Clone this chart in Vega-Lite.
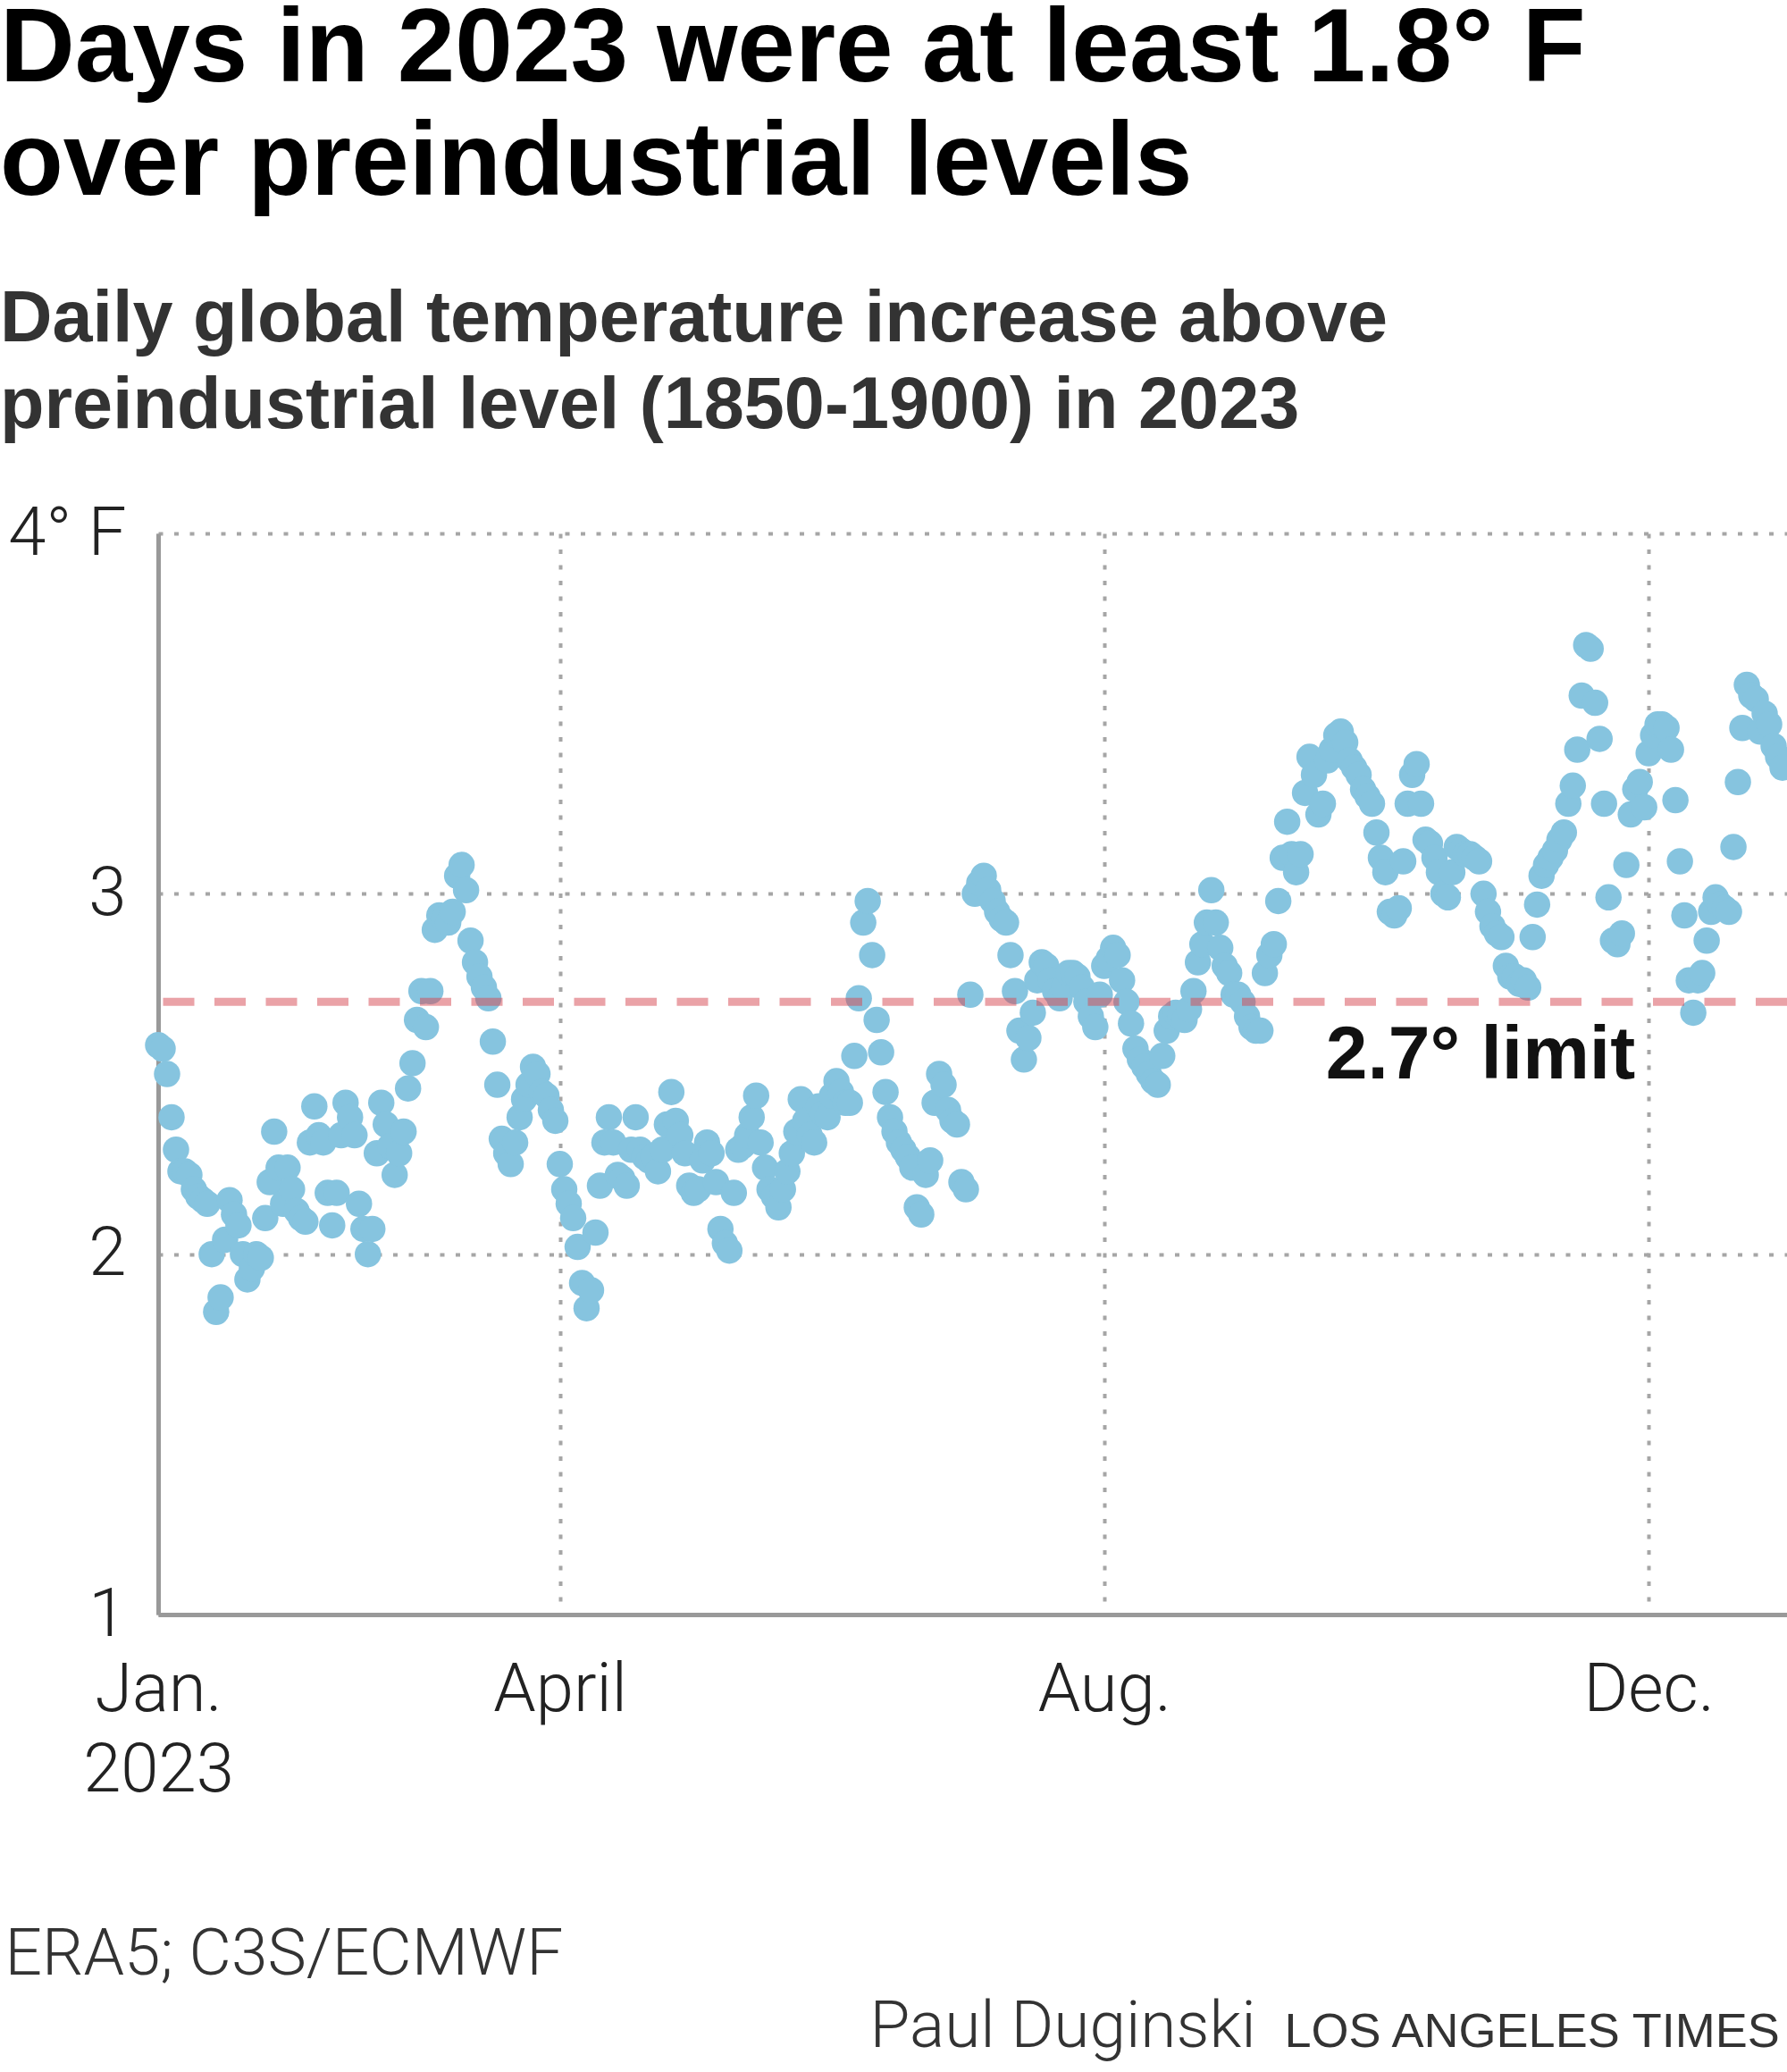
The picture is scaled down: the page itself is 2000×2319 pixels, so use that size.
{
  "$schema": "https://vega.github.io/schema/vega-lite/v6.json",
  "width": 1823,
  "height": 1210,
  "autosize": {"type": "none"},
  "padding": {"left": 177, "top": 597, "right": 0, "bottom": 512},
  "background": "white",
  "title": {
    "text": ["Days in 2023 were at least 1.8° F", "over preindustrial levels"],
    "subtitle": ["Daily global temperature increase above", "preindustrial level (1850-1900) in 2023"],
    "anchor": "start",
    "frame": "group",
    "dx": -177,
    "offset": 63,
    "font": "Liberation Sans",
    "fontSize": 116,
    "fontWeight": "bold",
    "lineHeight": 127,
    "color": "#000000",
    "subtitleFont": "Liberation Sans",
    "subtitleFontSize": 81,
    "subtitleFontWeight": "bold",
    "subtitleLineHeight": 97,
    "subtitleColor": "#333333",
    "subtitlePadding": 76
  },
  "datasets": {
    "temps": [
      {"date":"2023-01-01","temp":2.58},{"date":"2023-01-02","temp":2.57},{"date":"2023-01-03","temp":2.50},{"date":"2023-01-04","temp":2.38},{"date":"2023-01-05","temp":2.29},{"date":"2023-01-06","temp":2.23},{"date":"2023-01-07","temp":2.23},{"date":"2023-01-08","temp":2.22},{"date":"2023-01-09","temp":2.18},{"date":"2023-01-10","temp":2.16},{"date":"2023-01-11","temp":2.15},{"date":"2023-01-12","temp":2.14},{"date":"2023-01-13","temp":2.00},{"date":"2023-01-14","temp":1.84},{"date":"2023-01-15","temp":1.88},{"date":"2023-01-16","temp":2.04},{"date":"2023-01-17","temp":2.15},{"date":"2023-01-18","temp":2.11},{"date":"2023-01-19","temp":2.08},{"date":"2023-01-20","temp":2.00},{"date":"2023-01-21","temp":1.93},{"date":"2023-01-22","temp":1.96},{"date":"2023-01-23","temp":2.00},{"date":"2023-01-24","temp":1.99},{"date":"2023-01-25","temp":2.10},{"date":"2023-01-26","temp":2.20},{"date":"2023-01-27","temp":2.34},{"date":"2023-01-28","temp":2.24},{"date":"2023-01-29","temp":2.14},{"date":"2023-01-30","temp":2.24},{"date":"2023-01-31","temp":2.18},
      {"date":"2023-02-01","temp":2.12},{"date":"2023-02-02","temp":2.10},{"date":"2023-02-03","temp":2.09},{"date":"2023-02-04","temp":2.31},{"date":"2023-02-05","temp":2.41},{"date":"2023-02-06","temp":2.33},{"date":"2023-02-07","temp":2.31},{"date":"2023-02-08","temp":2.17},{"date":"2023-02-09","temp":2.08},{"date":"2023-02-10","temp":2.17},{"date":"2023-02-11","temp":2.33},{"date":"2023-02-12","temp":2.42},{"date":"2023-02-13","temp":2.38},{"date":"2023-02-14","temp":2.33},{"date":"2023-02-15","temp":2.14},{"date":"2023-02-16","temp":2.07},{"date":"2023-02-17","temp":2.00},{"date":"2023-02-18","temp":2.07},{"date":"2023-02-19","temp":2.28},{"date":"2023-02-20","temp":2.42},{"date":"2023-02-21","temp":2.36},{"date":"2023-02-22","temp":2.30},{"date":"2023-02-23","temp":2.22},{"date":"2023-02-24","temp":2.28},{"date":"2023-02-25","temp":2.34},{"date":"2023-02-26","temp":2.46},{"date":"2023-02-27","temp":2.53},{"date":"2023-02-28","temp":2.65},
      {"date":"2023-03-01","temp":2.73},{"date":"2023-03-02","temp":2.63},{"date":"2023-03-03","temp":2.73},{"date":"2023-03-04","temp":2.90},{"date":"2023-03-05","temp":2.94},{"date":"2023-03-06","temp":2.93},{"date":"2023-03-07","temp":2.92},{"date":"2023-03-08","temp":2.95},{"date":"2023-03-09","temp":3.05},{"date":"2023-03-10","temp":3.08},{"date":"2023-03-11","temp":3.01},{"date":"2023-03-12","temp":2.87},{"date":"2023-03-13","temp":2.81},{"date":"2023-03-14","temp":2.77},{"date":"2023-03-15","temp":2.74},{"date":"2023-03-16","temp":2.71},{"date":"2023-03-17","temp":2.59},{"date":"2023-03-18","temp":2.47},{"date":"2023-03-19","temp":2.32},{"date":"2023-03-20","temp":2.28},{"date":"2023-03-21","temp":2.25},{"date":"2023-03-22","temp":2.31},{"date":"2023-03-23","temp":2.38},{"date":"2023-03-24","temp":2.43},{"date":"2023-03-25","temp":2.47},{"date":"2023-03-26","temp":2.52},{"date":"2023-03-27","temp":2.50},{"date":"2023-03-28","temp":2.45},{"date":"2023-03-29","temp":2.44},{"date":"2023-03-30","temp":2.40},{"date":"2023-03-31","temp":2.37},
      {"date":"2023-04-01","temp":2.25},{"date":"2023-04-02","temp":2.18},{"date":"2023-04-03","temp":2.14},{"date":"2023-04-04","temp":2.10},{"date":"2023-04-05","temp":2.02},{"date":"2023-04-06","temp":1.92},{"date":"2023-04-07","temp":1.85},{"date":"2023-04-08","temp":1.90},{"date":"2023-04-09","temp":2.06},{"date":"2023-04-10","temp":2.19},{"date":"2023-04-11","temp":2.31},{"date":"2023-04-12","temp":2.38},{"date":"2023-04-13","temp":2.31},{"date":"2023-04-14","temp":2.22},{"date":"2023-04-15","temp":2.21},{"date":"2023-04-16","temp":2.19},{"date":"2023-04-17","temp":2.29},{"date":"2023-04-18","temp":2.38},{"date":"2023-04-19","temp":2.29},{"date":"2023-04-20","temp":2.27},{"date":"2023-04-21","temp":2.26},{"date":"2023-04-22","temp":2.27},{"date":"2023-04-23","temp":2.23},{"date":"2023-04-24","temp":2.29},{"date":"2023-04-25","temp":2.36},{"date":"2023-04-26","temp":2.45},{"date":"2023-04-27","temp":2.37},{"date":"2023-04-28","temp":2.33},{"date":"2023-04-29","temp":2.28},{"date":"2023-04-30","temp":2.19},
      {"date":"2023-05-01","temp":2.17},{"date":"2023-05-02","temp":2.18},{"date":"2023-05-03","temp":2.26},{"date":"2023-05-04","temp":2.31},{"date":"2023-05-05","temp":2.28},{"date":"2023-05-06","temp":2.20},{"date":"2023-05-07","temp":2.07},{"date":"2023-05-08","temp":2.03},{"date":"2023-05-09","temp":2.01},{"date":"2023-05-10","temp":2.17},{"date":"2023-05-11","temp":2.29},{"date":"2023-05-12","temp":2.30},{"date":"2023-05-13","temp":2.33},{"date":"2023-05-14","temp":2.38},{"date":"2023-05-15","temp":2.44},{"date":"2023-05-16","temp":2.31},{"date":"2023-05-17","temp":2.24},{"date":"2023-05-18","temp":2.18},{"date":"2023-05-19","temp":2.16},{"date":"2023-05-20","temp":2.13},{"date":"2023-05-21","temp":2.18},{"date":"2023-05-22","temp":2.23},{"date":"2023-05-23","temp":2.28},{"date":"2023-05-24","temp":2.34},{"date":"2023-05-25","temp":2.43},{"date":"2023-05-26","temp":2.37},{"date":"2023-05-27","temp":2.33},{"date":"2023-05-28","temp":2.31},{"date":"2023-05-29","temp":2.41},{"date":"2023-05-30","temp":2.39},{"date":"2023-05-31","temp":2.38},
      {"date":"2023-06-01","temp":2.44},{"date":"2023-06-02","temp":2.48},{"date":"2023-06-03","temp":2.45},{"date":"2023-06-04","temp":2.42},{"date":"2023-06-05","temp":2.42},{"date":"2023-06-06","temp":2.55},{"date":"2023-06-07","temp":2.71},{"date":"2023-06-08","temp":2.92},{"date":"2023-06-09","temp":2.98},{"date":"2023-06-10","temp":2.83},{"date":"2023-06-11","temp":2.65},{"date":"2023-06-12","temp":2.56},{"date":"2023-06-13","temp":2.45},{"date":"2023-06-14","temp":2.38},{"date":"2023-06-15","temp":2.34},{"date":"2023-06-16","temp":2.31},{"date":"2023-06-17","temp":2.29},{"date":"2023-06-18","temp":2.27},{"date":"2023-06-19","temp":2.24},{"date":"2023-06-20","temp":2.13},{"date":"2023-06-21","temp":2.11},{"date":"2023-06-22","temp":2.22},{"date":"2023-06-23","temp":2.26},{"date":"2023-06-24","temp":2.42},{"date":"2023-06-25","temp":2.50},{"date":"2023-06-26","temp":2.47},{"date":"2023-06-27","temp":2.40},{"date":"2023-06-28","temp":2.37},{"date":"2023-06-29","temp":2.36},{"date":"2023-06-30","temp":2.20},
      {"date":"2023-07-01","temp":2.18},{"date":"2023-07-02","temp":2.72},{"date":"2023-07-03","temp":3.00},{"date":"2023-07-04","temp":3.03},{"date":"2023-07-05","temp":3.05},{"date":"2023-07-06","temp":3.01},{"date":"2023-07-07","temp":2.98},{"date":"2023-07-08","temp":2.95},{"date":"2023-07-09","temp":2.93},{"date":"2023-07-10","temp":2.92},{"date":"2023-07-11","temp":2.83},{"date":"2023-07-12","temp":2.73},{"date":"2023-07-13","temp":2.62},{"date":"2023-07-14","temp":2.54},{"date":"2023-07-15","temp":2.60},{"date":"2023-07-16","temp":2.67},{"date":"2023-07-17","temp":2.76},{"date":"2023-07-18","temp":2.81},{"date":"2023-07-19","temp":2.80},{"date":"2023-07-20","temp":2.76},{"date":"2023-07-21","temp":2.73},{"date":"2023-07-22","temp":2.71},{"date":"2023-07-23","temp":2.74},{"date":"2023-07-24","temp":2.78},{"date":"2023-07-25","temp":2.78},{"date":"2023-07-26","temp":2.77},{"date":"2023-07-27","temp":2.74},{"date":"2023-07-28","temp":2.70},{"date":"2023-07-29","temp":2.66},{"date":"2023-07-30","temp":2.63},{"date":"2023-07-31","temp":2.72},
      {"date":"2023-08-01","temp":2.80},{"date":"2023-08-02","temp":2.82},{"date":"2023-08-03","temp":2.85},{"date":"2023-08-04","temp":2.83},{"date":"2023-08-05","temp":2.76},{"date":"2023-08-06","temp":2.70},{"date":"2023-08-07","temp":2.64},{"date":"2023-08-08","temp":2.57},{"date":"2023-08-09","temp":2.54},{"date":"2023-08-10","temp":2.52},{"date":"2023-08-11","temp":2.50},{"date":"2023-08-12","temp":2.48},{"date":"2023-08-13","temp":2.47},{"date":"2023-08-14","temp":2.55},{"date":"2023-08-15","temp":2.62},{"date":"2023-08-16","temp":2.66},{"date":"2023-08-17","temp":2.67},{"date":"2023-08-18","temp":2.66},{"date":"2023-08-19","temp":2.65},{"date":"2023-08-20","temp":2.68},{"date":"2023-08-21","temp":2.73},{"date":"2023-08-22","temp":2.81},{"date":"2023-08-23","temp":2.86},{"date":"2023-08-24","temp":2.92},{"date":"2023-08-25","temp":3.01},{"date":"2023-08-26","temp":2.92},{"date":"2023-08-27","temp":2.85},{"date":"2023-08-28","temp":2.80},{"date":"2023-08-29","temp":2.78},{"date":"2023-08-30","temp":2.72},{"date":"2023-08-31","temp":2.72},
      {"date":"2023-09-01","temp":2.70},{"date":"2023-09-02","temp":2.66},{"date":"2023-09-03","temp":2.63},{"date":"2023-09-04","temp":2.62},{"date":"2023-09-05","temp":2.62},{"date":"2023-09-06","temp":2.78},{"date":"2023-09-07","temp":2.83},{"date":"2023-09-08","temp":2.86},{"date":"2023-09-09","temp":2.98},{"date":"2023-09-10","temp":3.10},{"date":"2023-09-11","temp":3.20},{"date":"2023-09-12","temp":3.11},{"date":"2023-09-13","temp":3.06},{"date":"2023-09-14","temp":3.11},{"date":"2023-09-15","temp":3.28},{"date":"2023-09-16","temp":3.38},{"date":"2023-09-17","temp":3.33},{"date":"2023-09-18","temp":3.22},{"date":"2023-09-19","temp":3.25},{"date":"2023-09-20","temp":3.37},{"date":"2023-09-21","temp":3.40},{"date":"2023-09-22","temp":3.44},{"date":"2023-09-23","temp":3.45},{"date":"2023-09-24","temp":3.42},{"date":"2023-09-25","temp":3.37},{"date":"2023-09-26","temp":3.35},{"date":"2023-09-27","temp":3.33},{"date":"2023-09-28","temp":3.29},{"date":"2023-09-29","temp":3.27},{"date":"2023-09-30","temp":3.25},
      {"date":"2023-10-01","temp":3.17},{"date":"2023-10-02","temp":3.10},{"date":"2023-10-03","temp":3.06},{"date":"2023-10-04","temp":2.95},{"date":"2023-10-05","temp":2.94},{"date":"2023-10-06","temp":2.96},{"date":"2023-10-07","temp":3.09},{"date":"2023-10-08","temp":3.25},{"date":"2023-10-09","temp":3.33},{"date":"2023-10-10","temp":3.36},{"date":"2023-10-11","temp":3.25},{"date":"2023-10-12","temp":3.15},{"date":"2023-10-13","temp":3.14},{"date":"2023-10-14","temp":3.10},{"date":"2023-10-15","temp":3.06},{"date":"2023-10-16","temp":3.00},{"date":"2023-10-17","temp":2.99},{"date":"2023-10-18","temp":3.06},{"date":"2023-10-19","temp":3.13},{"date":"2023-10-20","temp":3.12},{"date":"2023-10-21","temp":3.11},{"date":"2023-10-22","temp":3.11},{"date":"2023-10-23","temp":3.10},{"date":"2023-10-24","temp":3.09},{"date":"2023-10-25","temp":3.00},{"date":"2023-10-26","temp":2.95},{"date":"2023-10-27","temp":2.91},{"date":"2023-10-28","temp":2.89},{"date":"2023-10-29","temp":2.88},{"date":"2023-10-30","temp":2.80},{"date":"2023-10-31","temp":2.77},
      {"date":"2023-11-01","temp":2.77},{"date":"2023-11-02","temp":2.75},{"date":"2023-11-03","temp":2.76},{"date":"2023-11-04","temp":2.74},{"date":"2023-11-05","temp":2.88},{"date":"2023-11-06","temp":2.97},{"date":"2023-11-07","temp":3.05},{"date":"2023-11-08","temp":3.08},{"date":"2023-11-09","temp":3.10},{"date":"2023-11-10","temp":3.12},{"date":"2023-11-11","temp":3.15},{"date":"2023-11-12","temp":3.17},{"date":"2023-11-13","temp":3.25},{"date":"2023-11-14","temp":3.30},{"date":"2023-11-15","temp":3.40},{"date":"2023-11-16","temp":3.55},{"date":"2023-11-17","temp":3.69},{"date":"2023-11-18","temp":3.68},{"date":"2023-11-19","temp":3.53},{"date":"2023-11-20","temp":3.43},{"date":"2023-11-21","temp":3.25},{"date":"2023-11-22","temp":2.99},{"date":"2023-11-23","temp":2.87},{"date":"2023-11-24","temp":2.86},{"date":"2023-11-25","temp":2.89},{"date":"2023-11-26","temp":3.08},{"date":"2023-11-27","temp":3.22},{"date":"2023-11-28","temp":3.29},{"date":"2023-11-29","temp":3.31},{"date":"2023-11-30","temp":3.24},
      {"date":"2023-12-01","temp":3.39},{"date":"2023-12-02","temp":3.44},{"date":"2023-12-03","temp":3.47},{"date":"2023-12-04","temp":3.47},{"date":"2023-12-05","temp":3.46},{"date":"2023-12-06","temp":3.40},{"date":"2023-12-07","temp":3.26},{"date":"2023-12-08","temp":3.09},{"date":"2023-12-09","temp":2.94},{"date":"2023-12-10","temp":2.76},{"date":"2023-12-11","temp":2.67},{"date":"2023-12-12","temp":2.76},{"date":"2023-12-13","temp":2.78},{"date":"2023-12-14","temp":2.87},{"date":"2023-12-15","temp":2.95},{"date":"2023-12-16","temp":2.99},{"date":"2023-12-17","temp":2.97},{"date":"2023-12-18","temp":2.96},{"date":"2023-12-19","temp":2.95},{"date":"2023-12-20","temp":3.13},{"date":"2023-12-21","temp":3.31},{"date":"2023-12-22","temp":3.46},{"date":"2023-12-23","temp":3.58},{"date":"2023-12-24","temp":3.55},{"date":"2023-12-25","temp":3.54},{"date":"2023-12-26","temp":3.45},{"date":"2023-12-27","temp":3.50},{"date":"2023-12-28","temp":3.47},{"date":"2023-12-29","temp":3.41},{"date":"2023-12-30","temp":3.38},{"date":"2023-12-31","temp":3.35}
    ]
  },
  "layer": [
    {
      "data": {"name": "temps"},
      "mark": {"type": "circle", "size": 870, "color": "#86c4df", "opacity": 1},
      "encoding": {
        "x": {
          "field": "date",
          "type": "temporal",
          "scale": {"type": "utc", "domain": [{"year": 2023, "month": 1, "date": 1, "utc": true}, {"year": 2024, "month": 1, "date": 1, "utc": true}]},
          "axis": {
            "values": [
              {"year": 2023, "month": 1, "date": 1, "utc": true},
              {"year": 2023, "month": 4, "date": 1, "utc": true},
              {"year": 2023, "month": 8, "date": 1, "utc": true},
              {"year": 2023, "month": 12, "date": 1, "utc": true}
            ],
            "labelExpr": "utcmonth(datum.value) == 0 ? ['Jan.', '2023'] : utcmonth(datum.value) == 3 ? 'April' : utcmonth(datum.value) == 7 ? 'Aug.' : 'Dec.'",
            "labelFont": "Roboto",
            "labelFontWeight": 300,
            "labelFontSize": 76,
            "labelColor": "#222222",
            "labelPadding": 47,
            "labelLineHeight": 90,
            "labelBaseline": "top",
            "labelAlign": "center",
            "labelFlush": false,
            "labelOverlap": false,
            "ticks": false,
            "tickSize": 0,
            "domain": true,
            "domainColor": "#999999",
            "domainWidth": 5,
            "grid": true,
            "gridColor": "#a6a6a6",
            "gridDash": [5, 12.5],
            "gridWidth": 4,
            "title": "ERA5; C3S/ECMWF",
            "titleFont": "Roboto",
            "titleFontWeight": 300,
            "titleFontSize": 73,
            "titleColor": "#333333",
            "titleAnchor": "start",
            "titleAlign": "left",
            "titleBaseline": "alphabetic",
            "titleX": -172,
            "titleY": 402
          }
        },
        "y": {
          "field": "temp",
          "type": "quantitative",
          "scale": {"domain": [1, 4], "nice": false, "zero": false},
          "axis": {
            "values": [1, 2, 3, 4],
            "labelExpr": "datum.value == 4 ? '4° F' : datum.label",
            "labelFont": "Roboto",
            "labelFontWeight": 300,
            "labelFontSize": 76,
            "labelColor": "#222222",
            "labelPadding": 36,
            "labelBaseline": "middle",
            "labelAlign": "right",
            "labelFlush": false,
            "labelOverlap": false,
            "ticks": false,
            "tickSize": 0,
            "domain": true,
            "domainColor": "#999999",
            "domainWidth": 5,
            "grid": true,
            "gridColor": "#a6a6a6",
            "gridDash": [5, 12.5],
            "gridWidth": 4,
            "title": "Paul Duginski",
            "titleAngle": 0,
            "titleX": 796,
            "titleY": 1693,
            "titleAlign": "left",
            "titleBaseline": "alphabetic",
            "titleFont": "Roboto",
            "titleFontWeight": 300,
            "titleFontSize": 73,
            "titleColor": "#333333"
          }
        }
      }
    },
    {
      "data": {"values": [{"limit": 2.7}]},
      "mark": {"type": "rule", "color": "#d6454f", "opacity": 0.5, "strokeWidth": 9, "strokeDash": [35, 22.5]},
      "encoding": {
        "y": {
          "field": "limit",
          "type": "quantitative",
          "axis": {
            "orient": "right",
            "labels": false,
            "ticks": false,
            "domain": false,
            "grid": false,
            "title": "LOS ANGELES TIMES",
            "titleAngle": 0,
            "titleX": -563,
            "titleY": 1693,
            "titleAlign": "left",
            "titleBaseline": "alphabetic",
            "titleFont": "Liberation Sans",
            "titleFontSize": 54,
            "titleFontWeight": "normal",
            "titleColor": "#333333"
          }
        }
      }
    },
    {
      "data": {"values": [{"date": "2023-11-28", "limit": 2.7, "label": "2.7° limit"}]},
      "mark": {"type": "text", "align": "right", "baseline": "alphabetic", "dy": 86, "font": "Liberation Sans", "fontSize": 84, "fontWeight": "bold", "color": "#111111"},
      "encoding": {
        "x": {"field": "date", "type": "temporal"},
        "y": {"field": "limit", "type": "quantitative", "axis": null},
        "text": {"field": "label"}
      }
    }
  ],
  "resolve": {"axis": {"y": "independent"}},
  "config": {"view": {"stroke": null}}
}
